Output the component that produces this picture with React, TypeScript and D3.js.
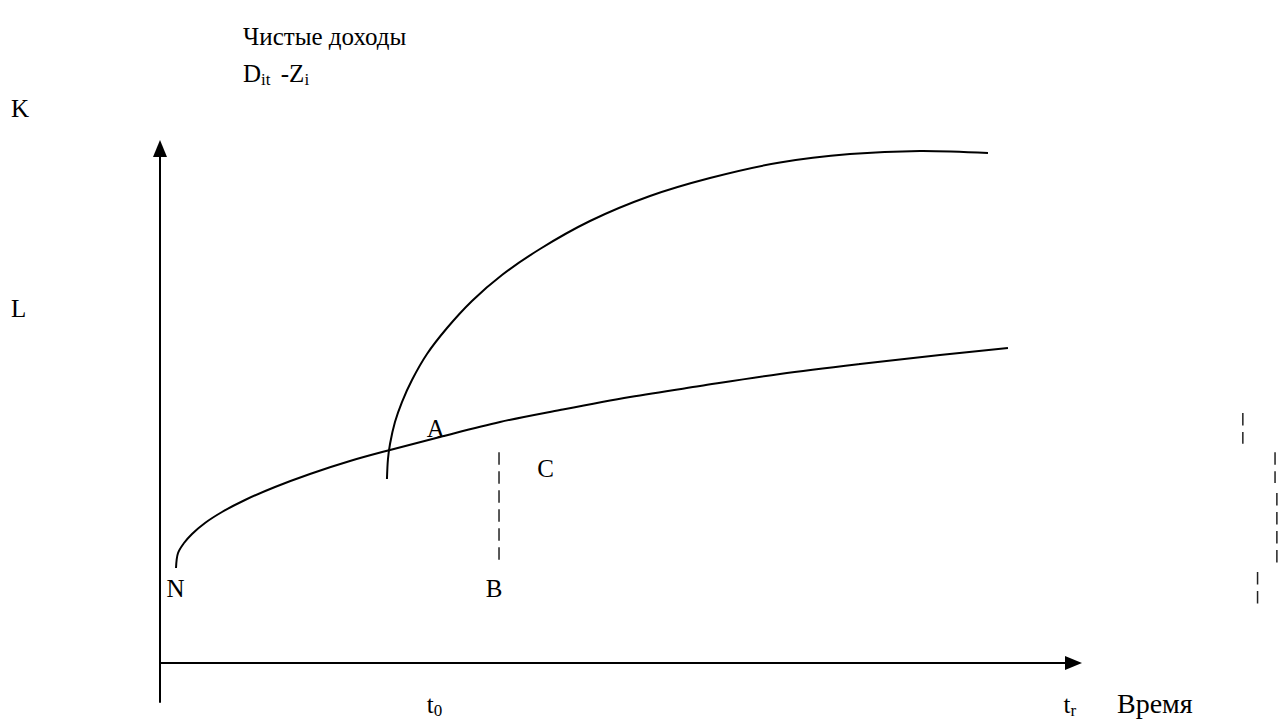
import React, { useEffect, useRef } from 'react'
import * as d3 from 'd3'

// lower curve (N -> A -> right), time / value units
const lowerT = [1.74, 1.96, 2.61, 3.48, 4.89, 6.74, 9.24, 12.5, 16.3, 20.65, 25.0, 30.43, 36.96, 43.48, 51.09, 58.7, 67.39, 76.09, 84.78, 92.17]
const lowerV = [18.16, 21.03, 22.94, 24.67, 26.77, 28.87, 31.17, 33.65, 36.14, 38.62, 40.73, 43.21, 46.08, 48.37, 50.86, 52.96, 55.26, 57.17, 58.89, 60.23]

// upper curve (steep rise after t0)
const upperT = [24.67, 24.78, 25.0, 25.54, 26.3, 27.39, 29.02, 31.2, 33.91, 37.17, 41.3, 46.74, 53.26, 59.78, 67.39, 75.0, 82.61, 90.0]
const upperV = [35.18, 39.01, 41.87, 46.08, 49.9, 54.11, 59.08, 64.05, 69.22, 74.19, 79.16, 84.51, 89.29, 92.73, 95.7, 97.32, 97.9, 97.51]

// dashed segments
const dashT = [36.85, 117.7, 121.2, 121.4, 119.3]
const dashFrom = [40.3, 47.8, 40.3, 32.5, 17.4]
const dashTo = [18.7, 41.9, 34.4, 18.9, 11.3]

// point labels
const pointNames = ['A', 'C', 'N', 'B']
const pointT = [29.0, 41.0, 0.7, 35.4]
const pointV = [43.2, 35.6, 12.6, 12.6]

// labels on the value axis
const yNames = ['K', 'L']
const yVals = [104.4, 66.2]

// labels under the time axis
const xNames = [['t', '0'], ['t', 'r']]
const xVals = [29.0, 98.2]

const W = 1280
const H = 720
const font = '"Liberation Serif", "Times New Roman", serif'
const fs = 25

export default function App() {
  const ref = useRef<SVGSVGElement>(null)

  useEffect(() => {
    const svg = d3.select(ref.current)
    svg.selectAll('*').remove()

    const x = d3.scaleLinear().domain([0, 100]).range([160, 1080])
    const y = d3.scaleLinear().domain([0, 100]).range([663, 140])

    // axes with arrows
    svg.append('line')
      .attr('x1', x(0)).attr('x2', x(0))
      .attr('y1', y(-7.6)).attr('y2', y(100) + 14)
      .attr('stroke', 'black').attr('stroke-width', 2)
    svg.append('path')
      .attr('d', `M${x(0)},${y(100)} L${x(0) - 7},${y(100) + 17} L${x(0) + 7},${y(100) + 17} Z`)
      .attr('fill', 'black')

    svg.append('line')
      .attr('x1', x(0)).attr('x2', x(100) - 14)
      .attr('y1', y(0)).attr('y2', y(0))
      .attr('stroke', 'black').attr('stroke-width', 2)
    svg.append('path')
      .attr('d', `M${x(100) + 2},${y(0)} L${x(100) - 15},${y(0) - 7} L${x(100) - 15},${y(0) + 7} Z`)
      .attr('fill', 'black')

    const line = d3.line<[number, number]>()
      .x(d => x(d[0]))
      .y(d => y(d[1]))
      .curve(d3.curveCatmullRom.alpha(0.5))

    svg.append('path')
      .attr('d', line(lowerT.map((t, i) => [t, lowerV[i]]) as [number, number][]))
      .attr('fill', 'none').attr('stroke', 'black').attr('stroke-width', 2)

    svg.append('path')
      .attr('d', line(upperT.map((t, i) => [t, upperV[i]]) as [number, number][]))
      .attr('fill', 'none').attr('stroke', 'black').attr('stroke-width', 2)

    svg.selectAll('line.dash')
      .data(dashT)
      .enter()
      .append('line')
      .attr('class', 'dash')
      .attr('x1', d => x(d)).attr('x2', d => x(d))
      .attr('y1', (d, i) => y(dashFrom[i]))
      .attr('y2', (d, i) => y(dashTo[i]))
      .attr('stroke', '#222').attr('stroke-width', 1.5)
      .attr('stroke-dasharray', '12.5,6.5')

    svg.selectAll('text.pt')
      .data(pointNames)
      .enter()
      .append('text')
      .attr('class', 'pt')
      .attr('x', (d, i) => x(pointT[i]))
      .attr('y', (d, i) => y(pointV[i]))
      .attr('font-family', font).attr('font-size', fs)
      .text(d => d)

    svg.selectAll('text.yl')
      .data(yNames)
      .enter()
      .append('text')
      .attr('class', 'yl')
      .attr('x', 11)
      .attr('y', (d, i) => y(yVals[i]))
      .attr('font-family', font).attr('font-size', fs)
      .text(d => d)

    const xl = svg.selectAll('text.xl')
      .data(xNames)
      .enter()
      .append('text')
      .attr('class', 'xl')
      .attr('x', (d, i) => x(xVals[i]))
      .attr('y', 713)
      .attr('font-family', font).attr('font-size', fs)
    xl.append('tspan').text(d => d[0])
    xl.append('tspan').attr('font-size', 17).attr('dy', 3).text(d => d[1])

    svg.append('text')
      .attr('x', 1117).attr('y', 713)
      .attr('font-family', font).attr('font-size', 28)
      .text('Время')

    svg.append('text')
      .attr('x', 243).attr('y', 45)
      .attr('font-family', font).attr('font-size', fs)
      .text('Чистые доходы')

    const sub = svg.append('text')
      .attr('x', 243).attr('y', 82)
      .attr('font-family', font).attr('font-size', fs)
    sub.append('tspan').text('D')
    sub.append('tspan').attr('font-size', 17).attr('dy', 3).text('it')
    sub.append('tspan').attr('dy', -3).attr('dx', 4).text(' -Z')
    sub.append('tspan').attr('font-size', 17).attr('dy', 3).text('i')
  }, [])

  return (
    <div style={{ position: 'absolute', left: 0, top: 0 }}>
      <svg ref={ref} width={W} height={H} style={{ display: 'block', background: 'white' }} />
    </div>
  )
}
